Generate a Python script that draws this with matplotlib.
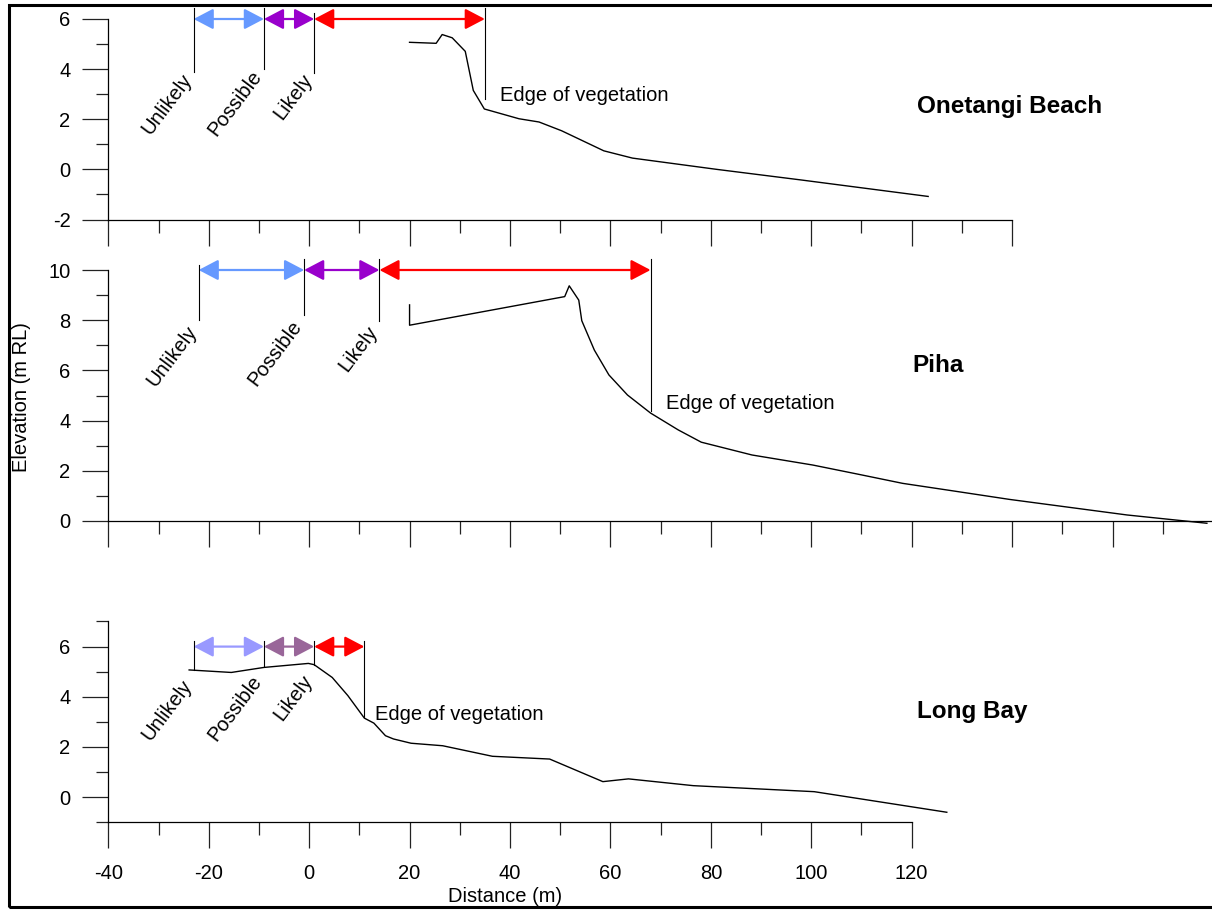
import numpy as np
import matplotlib
matplotlib.use('Agg')
import matplotlib.pyplot as plt
from matplotlib.patches import Rectangle
from matplotlib.ticker import MultipleLocator

plt.rcParams['font.family'] = ['Liberation Sans', 'DejaVu Sans']
plt.rcParams['axes.unicode_minus'] = False

# profiles (distance m, elevation m RL)
onetangi_x = [20, 25.3, 26.5, 28.5, 31.1, 32.7, 34.9, 41.8, 45.8, 50.3, 58.7, 64.4, 81.2, 97.9, 123.3]
onetangi_y = [5.07, 5.03, 5.38, 5.25, 4.71, 3.15, 2.41, 2.02, 1.89, 1.54, 0.74, 0.45, 0.0, -0.42, -1.08]

piha_x = [20.0, 20.0, 50.9, 51.8, 53.7, 54.3, 56.8, 59.7, 63.4, 68.0, 73.5, 78.1, 88.2, 100.3,
          109.2, 118.2, 127.9, 139.5, 151.2, 162.9, 178.8]
piha_y = [8.61, 7.80, 8.94, 9.37, 8.80, 7.98, 6.81, 5.82, 5.02, 4.30, 3.63, 3.14, 2.63, 2.23,
          1.87, 1.50, 1.21, 0.86, 0.55, 0.24, -0.09]

longbay_x = [-23.9, -15.5, -9.0, -0.15, 1.0, 4.6, 7.7, 11.0, 12.9, 15.2, 16.8, 20.3, 26.6, 36.5,
             47.9, 58.5, 63.6, 76.5, 100.6, 127.0]
longbay_y = [5.07, 4.97, 5.17, 5.33, 5.28, 4.77, 4.05, 3.15, 2.95, 2.45, 2.32, 2.15, 2.05, 1.63,
             1.52, 0.62, 0.73, 0.46, 0.22, -0.60]

# zone boundaries: unlikely, possible, likely, edge of vegetation
zone_labels = ['Unlikely', 'Possible', 'Likely']
onetangi_zones = [-23, -9, 1, 35]
onetangi_tops = [6.45, 6.45, 6.25, 6.45]
onetangi_bots = [3.87, 4.02, 3.85, 2.82]

piha_zones = [-22, -1, 14, 68]
piha_tops = [10.2, 10.43, 10.43, 10.43]
piha_bots = [8.0, 8.2, 7.98, 4.38]

longbay_zones = [-23, -9, 1, 11]
longbay_tops = [6.23, 6.23, 6.23, 6.23]
longbay_bots = [5.07, 5.23, 5.28, 3.2]

panels = [
    dict(name='Onetangi Beach', x=onetangi_x, y=onetangi_y, zones=onetangi_zones,
         tops=onetangi_tops, bots=onetangi_bots, arrow_y=6,
         colors=['#6699FF', '#9900CC', '#FF0000'],
         xlim=(-40, 140), ylim=(-2, 6), label_dy=-5,
         rect=[108.3 / 1212, (910 - 219.5) / 910, (1012 - 108.3) / 1212, 200.5 / 910],
         title_xy=(121.1, 2.5), edge_xy=(38.0, 2.94)),
    dict(name='Piha', x=piha_x, y=piha_y, zones=piha_zones,
         tops=piha_tops, bots=piha_bots, arrow_y=10,
         colors=['#6699FF', '#9900CC', '#FF0000'],
         xlim=(-40, 180), ylim=(0, 10), label_dy=-8,
         rect=[108.3 / 1212, (910 - 521) / 910, 220 * 5.021 / 1212, 251 / 910],
         title_xy=(120.1, 6.2), edge_xy=(71.1, 4.69)),
    dict(name='Long Bay', x=longbay_x, y=longbay_y, zones=longbay_zones,
         tops=longbay_tops, bots=longbay_bots, arrow_y=6,
         colors=['#9999FF', '#996699', '#FF0000'],
         xlim=(-40, 120), ylim=(-1, 7), label_dy=-11,
         rect=[108.3 / 1212, (910 - 822.3) / 910, 160 * 5.021 / 1212, 200.8 / 910],
         title_xy=(121.1, 3.4), edge_xy=(13.1, 3.31)),
]

fig = plt.figure(figsize=(12.12, 9.10), dpi=100)

for i, p in enumerate(panels):
    ax = fig.add_axes(p['rect'])
    ax.set_xlim(*p['xlim'])
    ax.set_ylim(*p['ylim'])
    for s in ['top', 'right']:
        ax.spines[s].set_visible(False)
    for s in ['left', 'bottom']:
        ax.spines[s].set_linewidth(0.9)
    ax.xaxis.set_major_locator(MultipleLocator(20))
    ax.xaxis.set_minor_locator(MultipleLocator(10))
    ax.yaxis.set_major_locator(MultipleLocator(2))
    ax.yaxis.set_minor_locator(MultipleLocator(1))
    ax.tick_params(which='major', length=18.7, width=0.9, color='#222222', labelsize=14.5)
    ax.tick_params(which='minor', length=9, width=0.9, color='#222222')
    ax.tick_params(axis='y', pad=8.6)
    ax.tick_params(axis='x', pad=11)
    if i < 2:
        ax.tick_params(axis='x', labelbottom=False)

    ax.plot(p['x'], p['y'], color='black', lw=1.0, clip_on=False)

    for zx, t, b in zip(p['zones'], p['tops'], p['bots']):
        ax.plot([zx, zx], [b, t], color='black', lw=0.8, clip_on=False)

    for j, c in enumerate(p['colors']):
        ax.annotate('', xy=(p['zones'][j + 1], p['arrow_y']), xytext=(p['zones'][j], p['arrow_y']),
                    arrowprops=dict(arrowstyle='<|-|>,head_length=0.8,head_width=0.42',
                                    color=c, lw=1.6, shrinkA=0, shrinkB=0, mutation_scale=15),
                    annotation_clip=False)

    for j, lab in enumerate(zone_labels):
        ax.annotate(lab, xy=(p['zones'][j], p['bots'][j]), xytext=(-1, p['label_dy']),
                    textcoords='offset points', rotation=53, rotation_mode='anchor',
                    ha='right', va='baseline', fontsize=14.5, annotation_clip=False)

    ax.text(p['edge_xy'][0], p['edge_xy'][1], 'Edge of vegetation', fontsize=14.5,
            ha='left', va='center', clip_on=False)
    ax.text(p['title_xy'][0], p['title_xy'][1], p['name'], fontsize=17.5, fontweight='bold',
            ha='left', va='center', clip_on=False)

fig.text(22 / 1212, 1 - 397 / 910, 'Elevation (m RL)', rotation=90, fontsize=14.5,
         ha='center', va='center')
fig.text(505 / 1212, 1 - 896 / 910, 'Distance (m)', fontsize=14.5, ha='center', va='center')

fig.patches.append(Rectangle((9 / 1212, 3 / 910), 1.02, 1 - 8 / 910, transform=fig.transFigure,
                             fill=False, edgecolor='black', lw=2.2))

fig.savefig('out.png', dpi=100)
